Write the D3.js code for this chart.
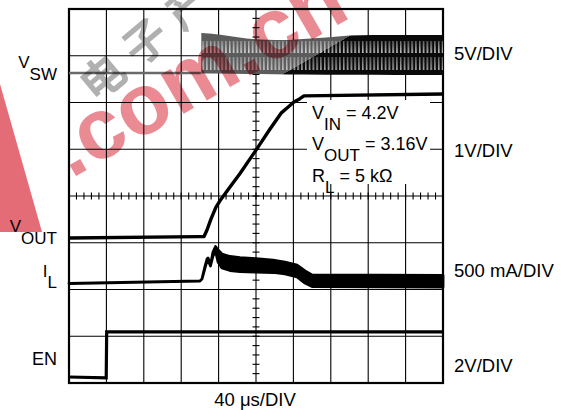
<!DOCTYPE html>
<html><head><meta charset="utf-8">
<script src="https://cdn.jsdelivr.net/npm/d3@7/dist/d3.min.js"></script>
<style>
body{margin:0;background:#fff}
svg{display:block}
text{font-family:"Liberation Sans",Arial,Helvetica,sans-serif;fill:#000}
</style>
</head><body>
<svg id="chart" width="562" height="410"></svg>
<script>
// ---------------- data ----------------
const timeTicks = d3.range(0, 401, 40);          // μs, 40 μs/DIV, 10 divisions
const divTicks = d3.range(0, 9);                  // 8 vertical divisions
const timeMinor = d3.range(0, 400.01, 8);         // 1/5 division marks
const divMinor = d3.range(0, 8.01, 0.2);

// V_SW (volts): idle level, then switching envelope
const vswTime = [0, 141, 141.5, 150, 160, 175, 190, 205, 220, 235, 250, 275, 300, 325, 350, 375, 400];
const vswHigh = [0, 0, 4.28, 4.23, 4.12, 3.91, 3.69, 3.58, 3.53, 3.53, 3.64, 3.80, 4.01, 4.07, 4.07, 4.07, 4.07];
const vswLow  = [0, 0, -0.05, -0.05, -0.06, -0.08, -0.10, -0.12, -0.14, -0.15, -0.16, -0.18, -0.19, -0.20, -0.21, -0.21, -0.21];

// V_OUT (volts)
const voutTime = [0, 140, 144.4, 147.6, 151.9, 157.2, 162.6, 172.2, 182.9, 200, 215, 226.8, 233.2, 240.6, 247, 251.3, 400];
const voutV    = [0, 0.03, 0.03, 0.17, 0.41, 0.66, 0.83, 1.09, 1.38, 1.88, 2.33, 2.67, 2.78, 2.91, 2.98, 3.04, 3.08];

// I_L (mA): upper / lower envelope of the ripple band
const ilTime  = [0, 140.1, 142.2, 145.5, 147.6, 148.7, 151.3, 154, 156.7, 159.4, 163.6, 172.2, 182.9, 200, 218.2, 231, 243.9, 252.4, 259.9, 400];
const ilUpper = [0, 27, 48, 187, 262, 273, 198, 337, 396, 358, 316, 289, 278, 267, 251, 230, 198, 134, 91, 86];
const ilLower = [0, 27, 48, 166, 241, 251, 187, 294, 348, 230, 166, 139, 128, 123, 118, 102, 70, 5, -32, -37];

// EN (volts)
const enTime = [0, 39.8, 40.3, 400];
const enV    = [0, -0.04, 1.93, 1.93];

// labels
const channelNames = [["V", "SW"], ["V", "OUT"], ["I", "L"], ["EN", ""]];
const scaleLabels = ["5V/DIV", "1V/DIV", "500 mA/DIV", "2V/DIV"];
const timeLabel = "40 \u03bcs/DIV";
const notes = [["V", "IN", " = 4.2V"], ["V", "OUT", " = 3.16V"], ["R", "L", " = 5 k\u03a9"]];

// ---------------- layout ----------------
const svg = d3.select("#chart");
svg.append("rect").attr("width", 562).attr("height", 410).attr("fill", "#fff");

const x = d3.scaleLinear().domain([0, 400]).range([69, 443]);
const yDiv = d3.scaleLinear().domain([0, 8]).range([383, 9]);

// channel positions (ground marker in divisions) and units per division
const ch = {
  vsw:  {offset: 6.631, perDiv: 5},
  vout: {offset: 3.102, perDiv: 1},
  il:   {offset: 2.128, perDiv: 500},
  en:   {offset: 0.128, perDiv: 2}
};
const yOf = c => v => yDiv(c.offset + v / c.perDiv);

// defs: gradient & spike pattern for switching node
const defs = svg.append("defs");
const grad = defs.append("linearGradient").attr("id", "swgrad")
  .attr("gradientUnits", "userSpaceOnUse")
  .attr("x1", 315.6).attr("y1", 51.2).attr("x2", 319.4).attr("y2", 57.8);
grad.append("stop").attr("offset", 0).attr("stop-color", "#5c5c5c");
grad.append("stop").attr("offset", 0.5).attr("stop-color", "#5c5c5c");
grad.append("stop").attr("offset", 0.5).attr("stop-color", "#0a0a0a");
grad.append("stop").attr("offset", 1).attr("stop-color", "#0a0a0a");

const pat = defs.append("pattern").attr("id", "spikes")
  .attr("patternUnits", "userSpaceOnUse").attr("width", 3.8).attr("height", 410);
pat.append("path").attr("d", "M1.5,41 L2.1,41 L2.5,53 L1.1,53 Z M1.5,57 L2.1,57 L2.4,70 L1.2,70 Z")
  .attr("fill", "#fff").attr("opacity", 0.9);

// grid
const g = svg.append("g");
g.selectAll(".vg").data(timeTicks).join("line")
  .attr("x1", d => x(d)).attr("x2", d => x(d)).attr("y1", yDiv(8)).attr("y2", yDiv(0))
  .attr("stroke", "#000").attr("stroke-width", 1.1);
g.selectAll(".hg").data(divTicks).join("line")
  .attr("y1", d => yDiv(d)).attr("y2", d => yDiv(d)).attr("x1", x(0)).attr("x2", x(400))
  .attr("stroke", "#000").attr("stroke-width", 1.1);
// minor ticks on centre axes
g.selectAll(".mt").data(timeMinor).join("line")
  .attr("x1", d => x(d)).attr("x2", d => x(d)).attr("y1", yDiv(4) - 3.5).attr("y2", yDiv(4) + 3.5)
  .attr("stroke", "#000").attr("stroke-width", 1.1);
g.selectAll(".md").data(divMinor).join("line")
  .attr("y1", d => yDiv(d)).attr("y2", d => yDiv(d)).attr("x1", x(200) - 3.5).attr("x2", x(200) + 3.5)
  .attr("stroke", "#000").attr("stroke-width", 1.1);
// border
g.append("rect").attr("x", x(0)).attr("y", yDiv(8)).attr("width", x(400) - x(0)).attr("height", yDiv(0) - yDiv(8))
  .attr("fill", "none").attr("stroke", "#000").attr("stroke-width", 2.2);

// white box behind the operating-condition notes
svg.append("rect").attr("x", 307).attr("y", 100).attr("width", 123).attr("height", 84).attr("fill", "#fff");

// ---------------- traces ----------------
// V_SW idle
const vswIdx = d3.range(vswTime.length);
const yVsw = yOf(ch.vsw);
svg.append("path")
  .attr("d", d3.line().x(i => x(vswTime[i])).y(i => yVsw(vswHigh[i]))(vswIdx.filter(i => vswTime[i] <= 141)))
  .attr("fill", "none").attr("stroke", "#6a6a6a").attr("stroke-width", 2.6);
// V_SW switching band
const bandIdx = vswIdx.filter(i => vswTime[i] >= 141.5);
const vswArea = d3.area().x(i => x(vswTime[i])).y0(i => yVsw(vswLow[i])).y1(i => yVsw(vswHigh[i]));
svg.append("path").attr("d", vswArea(bandIdx)).attr("fill", "url(#swgrad)");
svg.append("path").attr("d", vswArea(bandIdx)).attr("fill", "url(#spikes)");

// V_OUT
const yVout = yOf(ch.vout);
svg.append("path")
  .attr("d", d3.line().x(i => x(voutTime[i])).y(i => yVout(voutV[i]))(d3.range(voutTime.length)))
  .attr("fill", "none").attr("stroke", "#000").attr("stroke-width", 3.4).attr("stroke-linejoin", "round");

// I_L
const yIl = yOf(ch.il);
svg.append("path")
  .attr("d", d3.area().x(i => x(ilTime[i])).y0(i => yIl(ilLower[i])).y1(i => yIl(ilUpper[i]))(d3.range(ilTime.length)))
  .attr("fill", "#000").attr("stroke", "#000").attr("stroke-width", 2.8).attr("stroke-linejoin", "round");

// EN
const yEn = yOf(ch.en);
svg.append("path")
  .attr("d", d3.line().x(i => x(enTime[i])).y(i => yEn(enV[i]))(d3.range(enTime.length)))
  .attr("fill", "none").attr("stroke", "#000").attr("stroke-width", 3.2);

// ---------------- text ----------------
function sub(sel, xp, yp, parts, size, subSize, dy, anchor) {
  const t = sel.append("text").attr("x", xp).attr("y", yp).attr("font-size", size).attr("text-anchor", anchor || "start");
  t.append("tspan").text(parts[0]);
  if (parts[1]) t.append("tspan").attr("dy", dy).attr("font-size", subSize).text(parts[1]);
  if (parts[2]) t.append("tspan").attr("dy", -dy).text(parts[2]);
  return t;
}
const nameBase = [68, 232, 277, 365];
const nameSub = [12, 12, 11, 0];
channelNames.forEach((p, i) => {
  if (p[1]) sub(svg, 57, nameBase[i], p, 17, 17, nameSub[i], "end");
  else svg.append("text").attr("x", 57).attr("y", nameBase[i]).attr("font-size", 18).attr("text-anchor", "end").text(p[0]);
});
const scaleBase = [60, 157, 277, 372];
scaleLabels.forEach((s, i) => svg.append("text").attr("x", 454).attr("y", scaleBase[i]).attr("font-size", 18.5).text(s));
svg.append("text").attr("x", 255).attr("y", 405.5).attr("font-size", 18.5).attr("text-anchor", "middle").text(timeLabel);
const noteBase = [118.5, 150, 181.5];
notes.forEach((p, i) => sub(svg, 312, noteBase[i], p, 18, 17, 11, "start"));

// ---------------- watermark (multiply blend) ----------------
const wm = svg.append("g").style("mix-blend-mode", "multiply");
wm.append("path").attr("d", "M0,84 L42,232 L0,232 Z").attr("fill", "#e46c77");
wm.append("text").attr("transform", "translate(71,179) rotate(-30)")
  .attr("font-size", 86).attr("font-weight", "bold").style("fill", "#ea8a92").text(".com.cn");
wm.append("text").attr("transform", "translate(96,104) rotate(-40)")
  .attr("font-size", 44).attr("font-weight", "bold").attr("letter-spacing", 12)
  .style("font-family", "'Noto Sans CJK SC',sans-serif").style("fill", "#b0b0b0").text("电子产");
</script>
</body></html>
